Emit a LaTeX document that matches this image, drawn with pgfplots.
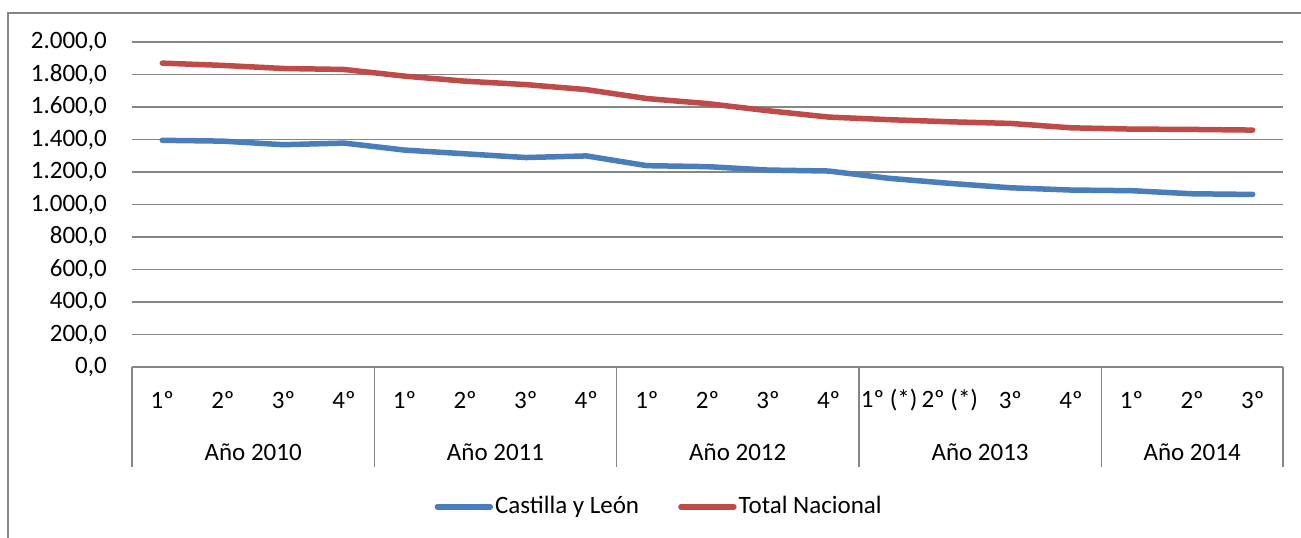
\documentclass[border=0pt]{standalone}
\usepackage{fontspec}
\setmainfont{Carlito}
\usepackage{pgfplots}
\pgfplotsset{compat=1.18}
\definecolor{cblue}{RGB}{74,126,187}
\definecolor{cred}{RGB}{190,75,72}
\definecolor{gridc}{RGB}{134,134,134}
\begin{document}
\fontsize{25bp}{29bp}\selectfont
\begin{tikzpicture}
\useasboundingbox (0,0) rectangle (1301bp,-538bp);
\draw[gridc, line width=1.2bp] (8bp,-538bp) -- (8bp,-13bp) -- (1301bp,-13bp);
\begin{axis}[
  at={(132bp,-367bp)}, anchor=south west,
  scale only axis, width=1151bp, height=325bp,
  xmin=-0.5, xmax=18.5, ymin=0, ymax=2000,
  ytick={0,200,...,2000},
  xtick={0,...,18},
  xticklabels={1º,2º,3º,4º,1º,2º,3º,4º,1º,2º,3º,4º,1º (*),2º (*),3º,4º,1º,2º,3º},
  axis x line*=bottom, axis y line*=left,
  x axis line style={gridc, line width=1.2bp},
  y axis line style={draw=none},
  major tick length=0pt,
  ymajorgrids, grid style={gridc, line width=1.2bp},
  yticklabel style={anchor=east, inner sep=0pt, xshift=-25bp},
  xticklabel style={anchor=center, inner sep=0pt, yshift=-33bp},
  /pgf/number format/.cd, use comma, 1000 sep={.}, fixed, fixed zerofill, precision=1, assume math mode=true,
  /pgfplots/.cd,
  clip=false,
  legend style={draw=none, fill=none, at={(0.458,-0.43)}, anchor=center,
    legend columns=2, /tikz/every even column/.append style={column sep=37bp},
    nodes={inner sep=2bp}},
  legend image code/.code={\draw[#1, line width=5.5bp, line cap=round] (0bp,0bp) -- (53bp,0bp);},
]
\addplot[cblue, line width=5.5bp, line cap=round, line join=round] coordinates {
(0,1395)(1,1390)(2,1368)(3,1378)(4,1335)(5,1312)(6,1289)(7,1299)(8,1239)(9,1233)(10,1212)(11,1206)(12,1161)(13,1130)(14,1103)(15,1089)(16,1085)(17,1066)(18,1062)};
\addlegendentry{Castilla y León}
\addplot[cred, line width=5.5bp, line cap=round, line join=round] coordinates {
(0,1870)(1,1856)(2,1837)(3,1831)(4,1790)(5,1759)(6,1738)(7,1707)(8,1652)(9,1621)(10,1577)(11,1538)(12,1522)(13,1509)(14,1499)(15,1472)(16,1464)(17,1462)(18,1458)};
\addlegendentry{Total Nacional}
\draw[gridc, line width=1.2bp] (axis cs:-0.5,0) -- ++(0bp,-100bp);
\draw[gridc, line width=1.2bp] (axis cs:3.5,0) -- ++(0bp,-100bp);
\draw[gridc, line width=1.2bp] (axis cs:7.5,0) -- ++(0bp,-100bp);
\draw[gridc, line width=1.2bp] (axis cs:11.5,0) -- ++(0bp,-100bp);
\draw[gridc, line width=1.2bp] (axis cs:15.5,0) -- ++(0bp,-100bp);
\draw[gridc, line width=1.2bp] (axis cs:18.5,0) -- ++(0bp,-100bp);
\node at (axis cs:1.5,0) [yshift=-85bp] {Año 2010};
\node at (axis cs:5.5,0) [yshift=-85bp] {Año 2011};
\node at (axis cs:9.5,0) [yshift=-85bp] {Año 2012};
\node at (axis cs:13.5,0) [yshift=-85bp] {Año 2013};
\node at (axis cs:17,0) [yshift=-85bp] {Año 2014};
\end{axis}
\end{tikzpicture}
\end{document}
